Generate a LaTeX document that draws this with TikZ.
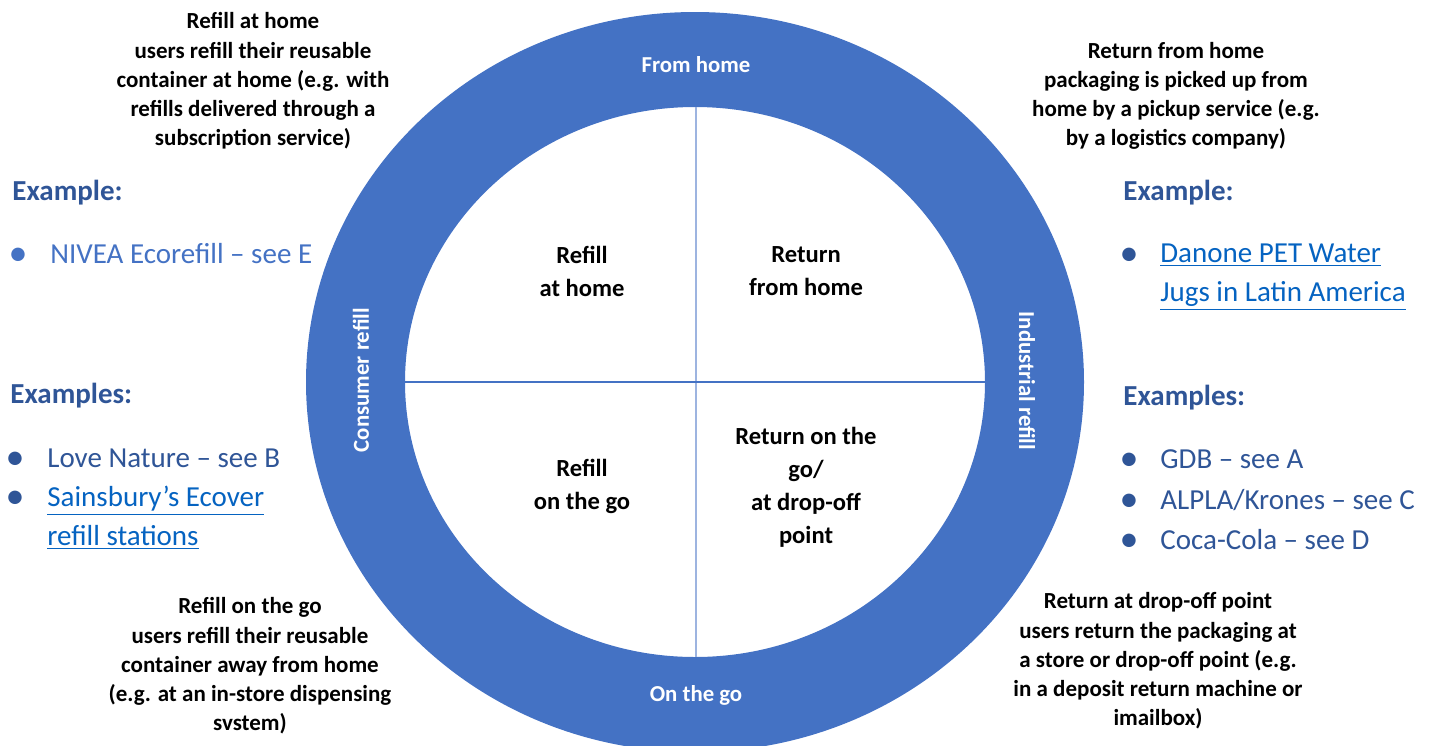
\documentclass[tikz,border=0pt]{standalone}
\usepackage{fontspec}
\setmainfont{Carlito}
\usepackage{tikz}
\usetikzlibrary{positioning}
\definecolor{ringblue}{HTML}{4472C4}
\definecolor{headblue}{HTML}{2F5597}
\definecolor{linkblue}{HTML}{0563C1}
\definecolor{paleblue}{HTML}{9DB4E0}
\tikzset{desc/.style={align=center,inner sep=0pt,font=\fontsize{11.5}{14.6}\selectfont\bfseries}}
\tikzset{inlabel/.style={align=center,inner sep=0pt,font=\fontsize{12.3}{16.5}\selectfont\bfseries}}
\tikzset{ringlabel/.style={text=white,inner sep=0pt,font=\fontsize{11.4}{14}\selectfont\bfseries}}
\tikzset{heading/.style={anchor=west,text=headblue,inner sep=0pt,font=\fontsize{14.5}{18}\selectfont\bfseries}}
\tikzset{item/.style={anchor=west,align=left,text=headblue,inner sep=0pt,font=\fontsize{14.5}{19.5}\selectfont}}
\tikzset{dot/.style={text=headblue,inner sep=0pt,font=\fontsize{19}{20}\selectfont}}
\newcommand{\lnk}[1]{\underline{#1}}

\begin{document}
\begin{tikzpicture}[x=0.5pt,y=-0.5pt]
        \useasboundingbox (0,0) rectangle (1436,745);
        \clip (0,0) rectangle (1436,745);

        % ring and quadrants
        \fill[ringblue,even odd rule] (695,382) ellipse [x radius=194.5pt,y radius=185pt]
            (695,382) ellipse [x radius=145pt,y radius=137.5pt];
        \draw[paleblue,line width=1pt] (696,107) -- (696,657);
        \draw[ringblue,line width=0.7pt] (405,382) -- (985,382);

        \node[ringlabel] (fhm) at (696,65) {From home};
        \node[ringlabel] (otg) at (696,695) {On the go};
        \node[ringlabel,rotate=90] (cns) at (361,380) {Consumer refill};
        \node[ringlabel,rotate=-90] (ind) at (1027,381) {Industrial refill};

        \node[inlabel] (rah) at (582,271) {Refill\\at home};
        \node[inlabel] (rfh) at (806,271) {Return\\from home};
        \node[inlabel] (rog) at (582,486) {Refill\\on the go};
        \node[inlabel] (rdp) at (806,487) {Return on the\\go/\\at drop-off\\point};

        % descriptions
        \node[desc] (dah) at (253,81) {Refill at home\\users refill their reusable\\
            container at home (e.g. with\\refills delivered through a\\subscription service)};
        \node[desc] (dfh) at (1176,96) {Return from home\\packaging is picked up from\\
            home by a pickup service (e.g.\\by a logistics company)};
        \node[desc] (dog) at (250,666) {Refill on the go\\users refill their reusable\\
            container away from home\\(e.g. at an in-store dispensing\\svstem)};
        \node[desc] (ddp) at (1158,661) {Return at drop-off point\\users return the packaging at\\
            a store or drop-off point (e.g.\\in a deposit return machine or\\imailbox)};

        % examples, left
        \node[heading] (exl) at (12,193) {Example:};
        \node[dot,text=ringblue] (b1) at (18,257) {\textbullet};
        \node[item,text=ringblue] (niv) at (50,254) {NIVEA Ecorefill -- see E};
        \node[heading] (exsl) at (10,396) {Examples:};
        \node[dot] (b2) at (15,461) {\textbullet};
        \node[item] (lov) at (47,458) {Love Nature -- see B};
        \node[dot] (b3) at (15,500) {\textbullet};
        \node[item,text=linkblue] (sai) at (47,518) {\lnk{Sainsbury’s Ecover}\\\lnk{refill stations}};

        % examples, right
        \node[heading] (exr) at (1123,193) {Example:};
        \node[dot] (b4) at (1129,257) {\textbullet};
        \node[item,text=linkblue] (dan) at (1160,277) {\lnk{Danone PET Water}\\\lnk{Jugs in Latin America}};
        \node[heading] (exsr) at (1123,398) {Examples:};
        \node[dot] (b5) at (1129,462) {\textbullet};
        \node[item] (gdb) at (1160,459) {GDB -- see A};
        \node[dot] (b6) at (1129,503) {\textbullet};
        \node[item] (alp) at (1160,500) {ALPLA/Krones -- see C};
        \node[dot] (b7) at (1129,543) {\textbullet};
        \node[item] (coc) at (1160,540) {Coca-Cola -- see D};
\end{tikzpicture}
\end{document}
